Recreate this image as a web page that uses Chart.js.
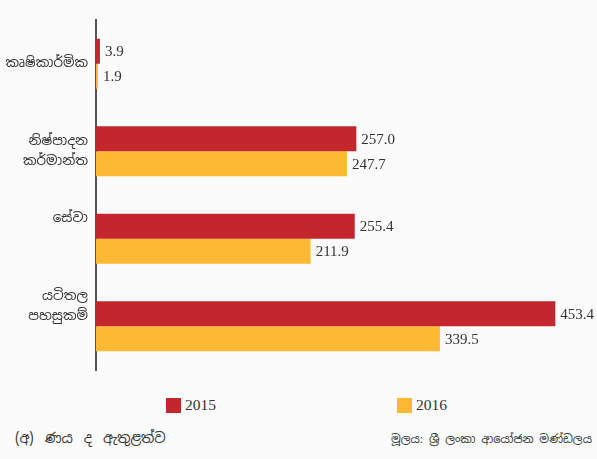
<!DOCTYPE html>
<html>
<head>
<meta charset="utf-8">
<script src="https://cdn.jsdelivr.net/npm/chart.js@4/dist/chart.umd.min.js"></script>
<style>
  html, body { margin: 0; padding: 0; background: #fafbfa; }
  #wrap { position: relative; width: 597px; height: 459px; overflow: hidden; }
  #c { position: absolute; left: 0; top: 0; }
  .leg { position: absolute; top: 396px; font: 15.5px "Liberation Serif", serif; color: #333; display: flex; align-items: center; }
  .leg span.box { display: inline-block; width: 15px; height: 15px; margin-right: 4px; }
  .foot { position: absolute; color: #333; font-family: "Noto Sans Sinhala", "Noto Serif Sinhala", "LKLUG", sans-serif; white-space: nowrap; }
</style>
</head>
<body>
<div id="wrap">
  <canvas id="c" width="597" height="385"></canvas>
  <div class="leg" style="left:166px"><span class="box" style="background:#c4262e"></span>2015</div>
  <div class="leg" style="left:397px"><span class="box" style="background:#fdb933"></span>2016</div>
  <div class="foot" style="left:15px; top:429px; font-size:14px; word-spacing:4px;">(අ) ණය ද ඇතුළත්ව</div>
  <div class="foot" style="right:5px; top:431px; font-size:11.5px;">මූලය: ශ්‍රී ලංකා ආයෝජන මණ්ඩලය</div>
</div>
<script>
const categories = [
  ['කෘෂිකාර්මික'],
  ['නිෂ්පාදන', 'කර්මාන්ත'],
  ['සේවා', '', ''],
  ['යටිතල', 'පහසුකම්', '', '']
];
const seriesNames = ['2015', '2016'];
const values2015 = [3.9, 257.0, 255.4, 453.4];
const values2016 = [1.9, 247.7, 211.9, 339.5];

const valueLabels = {
  id: 'valueLabels',
  afterDatasetsDraw(chart) {
    const ctx = chart.ctx;
    ctx.save();
    ctx.font = '15px "Liberation Serif", serif';
    ctx.fillStyle = '#333';
    ctx.textAlign = 'left';
    ctx.textBaseline = 'middle';
    chart.data.datasets.forEach((ds, di) => {
      chart.getDatasetMeta(di).data.forEach((bar, i) => {
        ctx.fillText(ds.data[i].toFixed(1), bar.x + 5, bar.y + 1);
      });
    });
    ctx.restore();
  }
};

new Chart(document.getElementById('c'), {
  type: 'bar',
  data: {
    labels: categories,
    datasets: [
      { label: seriesNames[0], data: values2015, backgroundColor: '#c4262e', borderWidth: 0 },
      { label: seriesNames[1], data: values2016, backgroundColor: '#fdb933', borderWidth: 0 }
    ]
  },
  options: {
    indexAxis: 'y',
    responsive: false,
    animation: false,
    layout: { padding: { top: 20, bottom: 15, right: 35, left: 0 } },
    datasets: { bar: { categoryPercentage: 50 / 87.5, barPercentage: 1 } },
    plugins: { legend: { display: false }, tooltip: { enabled: false } },
    scales: {
      x: { display: false, min: 0, max: 460 },
      y: {
        grid: { display: false, drawTicks: false },
        border: { display: true, color: '#555', width: 2 },
        afterFit(axis) { axis.width = 96; axis.paddingTop = 0; axis.paddingBottom = 0; },
        ticks: {
          padding: 8,
          color: '#333',
          font: { family: '"Noto Sans Sinhala", "Noto Serif Sinhala", "LKLUG", sans-serif', size: 13.5, lineHeight: 1.5 }
        }
      }
    }
  },
  plugins: [valueLabels]
});
</script>
</body>
</html>
